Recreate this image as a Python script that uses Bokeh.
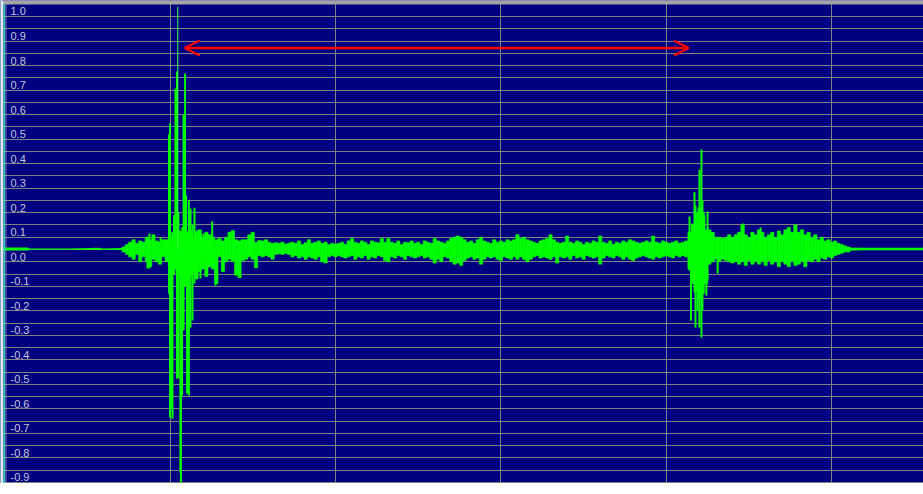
from bokeh.plotting import figure
from bokeh.models import Range1d, Grid, FixedTicker, Arrow, OpenHead, ColumnDataSource, BoxAnnotation
from bokeh.core.properties import value
from bokeh.embed import file_html
from bokeh.resources import INLINE
import numpy as np

# ---------------- data ----------------
# time axis: one grid division = 100 units
time_grid = [100, 200, 300, 400, 500]
level_ticks = [1.0, 0.9, 0.8, 0.7, 0.6, 0.5, 0.4, 0.3, 0.2, 0.1, 0.0,
               -0.1, -0.2, -0.3, -0.4, -0.5, -0.6, -0.7, -0.8, -0.9]
level_labels = ["1.0", "0.9", "0.8", "0.7", "0.6", "0.5", "0.4", "0.3", "0.2", "0.1", "0.0",
                "-0.1", "-0.2", "-0.3", "-0.4", "-0.5", "-0.6", "-0.7", "-0.8", "-0.9"]

# quiet lead-in and tail (thin trace around 0.05)
lead_t = [-3, 14, 15, 40, 52, 56, 60, 72]
lead_top = [0.058, 0.058, 0.054, 0.054, 0.056, 0.057, 0.054, 0.056]
lead_bot = [0.046, 0.046, 0.049, 0.049, 0.049, 0.049, 0.049, 0.048]
tail_t = [510, 520, 540, 556]
tail_top = [0.058, 0.057, 0.057, 0.057]
tail_bot = [0.045, 0.047, 0.047, 0.047]

# envelope of the trace, sampled every 2 time units from t=72
pre_top = [0.06, 0.07, 0.08, 0.09, 0.075, 0.085, 0.08, 0.10, 0.09, 0.11, 0.085, 0.08, 0.09]
pre_bot = [0.04, 0.03, 0.02, 0.01, 0.03, 0.0, 0.02, 0.0, -0.02, 0.01, 0.0, -0.01, 0.02]
burst1_top = [0.09, 0.1, 0.12, 0.1, 0.12, 0.14, 0.12, 0.13, 0.1, 0.12, 0.13, 0.10, 0.12, 0.11, 0.10]
burst1_bot = [0.0, -0.02, -0.05, -0.03, -0.06, -0.05, -0.08, -0.06, -0.05, -0.07, -0.04, -0.03, -0.06, -0.02, -0.03]
decay_top = [0.09, 0.095, 0.085, 0.10, 0.12, 0.127, 0.09, 0.085, 0.09, 0.09]
decay_bot = [-0.09, 0.02, -0.04, 0.0, 0.01, 0.0, -0.055, -0.065, 0.005, 0.01]
quiet1_top = [0.11, 0.12, 0.08, 0.087, 0.085, 0.09, 0.08, 0.075, 0.078, 0.075, 0.08, 0.072, 0.076, 0.08,
              0.075, 0.085, 0.07, 0.078, 0.09, 0.075, 0.08, 0.085, 0.075, 0.08, 0.07, 0.075, 0.072]
quiet1_bot = [0.02, 0.01, -0.025, 0.025, 0.02, 0.025, 0.02, 0.01, 0.03, 0.032, 0.03, 0.034, 0.03, 0.02,
              0.025, 0.015, 0.02, 0.01, 0.02, 0.015, 0.01, 0.02, 0.0, -0.005, 0.02, 0.025, 0.02]
quiet2_top = [0.075, 0.08, 0.07, 0.085, 0.095, 0.08, 0.075, 0.085, 0.08, 0.07, 0.085, 0.08, 0.078, 0.095,
              0.08, 0.095, 0.08, 0.075, 0.085, 0.07, 0.08, 0.078, 0.085, 0.075, 0.08, 0.07, 0.085, 0.08,
              0.075, 0.095, 0.085, 0.08, 0.075, 0.085, 0.095, 0.1, 0.105, 0.1, 0.09, 0.08, 0.085, 0.075,
              0.09, 0.1, 0.085, 0.08, 0.075, 0.09, 0.08, 0.085, 0.08, 0.09, 0.085, 0.09, 0.11, 0.095]
quiet2_bot = [0.025, 0.02, 0.015, 0.02, 0.025, 0.01, 0.02, 0.015, 0.025, 0.01, 0.02, 0.015, 0.025, 0.02,
              0.005, 0.0, 0.02, 0.015, 0.025, 0.02, 0.01, 0.025, 0.02, 0.015, 0.02, 0.025, 0.015, 0.02,
              0.01, -0.005, 0.01, 0.0, 0.02, 0.015, 0.0, -0.01, -0.005, -0.015, 0.005, 0.015, 0.02, 0.01,
              0.015, -0.01, 0.01, 0.02, 0.015, 0.02, 0.01, 0.005, 0.02, 0.015, 0.01, 0.02, 0.01, 0.02]
quiet3_top = [0.1, 0.09, 0.085, 0.08, 0.075, 0.085, 0.09, 0.095, 0.11, 0.09, 0.08, 0.075, 0.08, 0.105,
              0.08, 0.075, 0.085, 0.08, 0.07, 0.08, 0.075, 0.085, 0.08, 0.105, 0.08, 0.075, 0.085, 0.07,
              0.08, 0.075, 0.085, 0.08, 0.09, 0.085, 0.08, 0.075, 0.08, 0.085, 0.08, 0.105, 0.08, 0.075,
              0.085, 0.08, 0.075, 0.08, 0.085, 0.075, 0.08, 0.085]
quiet3_bot = [0.01, 0.0, 0.01, 0.02, 0.025, 0.015, 0.02, 0.015, 0.01, 0.02, -0.005, 0.02, 0.015, 0.02,
              0.01, 0.025, 0.015, 0.02, 0.01, 0.025, 0.02, 0.015, 0.02, -0.01, 0.015, 0.025, 0.02, 0.015,
              0.025, 0.02, 0.01, 0.02, 0.01, 0.005, 0.015, 0.02, 0.025, 0.02, 0.015, 0.01, 0.02, 0.015,
              0.02, 0.025, 0.02, 0.015, 0.025, 0.02, 0.025, 0.02]
burst2_top = [0.12, 0.15, 0.2, 0.22, 0.2, 0.13, 0.13, 0.12, 0.1, 0.1, 0.095, 0.1, 0.11, 0.1]
burst2_bot = [-0.03, -0.09, -0.12, -0.15, -0.13, -0.09, -0.01, 0.0, 0.01, 0.0, 0.01, 0.005, 0.0, -0.005]
late_top = [0.11, 0.12, 0.15, 0.11, 0.1, 0.12, 0.11, 0.13, 0.12, 0.1, 0.11, 0.12, 0.1, 0.125, 0.11, 0.13,
            0.14, 0.12, 0.15, 0.12, 0.13, 0.11, 0.12, 0.1, 0.11, 0.09, 0.1, 0.085, 0.09, 0.08, 0.085,
            0.075, 0.07, 0.065, 0.06]
late_bot = [0.0, -0.01, 0.0, -0.015, 0.005, -0.01, 0.0, -0.01, 0.0, -0.015, 0.005, -0.01, 0.0, -0.02, 0.0,
            -0.01, -0.02, 0.0, -0.015, -0.01, 0.0, -0.02, 0.005, 0.0, 0.01, 0.0, 0.015, 0.01, 0.02, 0.015,
            0.025, 0.03, 0.035, 0.04, 0.04]

# individual sharp excursions (time, max, min)
spike_t = [86.4, 87.6, 94.3, 99.4, 100.0, 100.9, 101.5, 102.4, 103.3, 104.2, 105.1, 106.3, 106.6,
           107.3, 108.2, 109.1, 109.7, 110.3, 111.4, 112.4, 113.6, 114.8, 116.0, 117.2, 118.4, 120.2,
           121.4, 123.3, 125.5, 127.5,
           414.0, 414.9, 415.8, 417.0, 417.6, 418.8, 420.0, 421.2, 421.8, 423.0, 424.2, 424.9, 431.0,
           446.6, 457.0]
spike_max = [0.094, 0.115, 0.1, 0.52, 0.564, 0.05, 0.05, 0.19, 0.706, 0.776, 0.2, 0.127, 0.05,
             0.1, 0.6, 0.768, 0.27, 0.06, 0.25, 0.217, 0.15, 0.22, 0.127, 0.13, 0.115, 0.115,
             0.1, 0.08, 0.164, 0.06,
             0.185, 0.05, 0.156, 0.283, 0.23, 0.15, 0.375, 0.458, 0.25, 0.19, 0.127, 0.205, 0.09,
             0.156, 0.14]
spike_min = [-0.027, -0.027, 0.0, -0.13, -0.635, -0.6, -0.64, -0.05, 0.0, -0.476, -0.476, -0.86, -0.9,
             -0.545, -0.28, -0.1, 0.0, -0.537, -0.545, -0.268, -0.24, -0.089, -0.036, 0.0, -0.068, 0.0,
             0.02, -0.023, 0.0, -0.097,
             -0.036, -0.24, -0.085, -0.125, -0.268, -0.2, -0.268, -0.309, -0.2, -0.09, -0.138, -0.077, -0.048,
             0.0, 0.0]

# cursor line at the first event
cursor_t = 104.7
cursor_top = 1.04
cursor_bot = 0.05

# measurement arrow between the two events
marker_start = 108.9
marker_end = 413.6
marker_level = 0.8716

band_top = pre_top + burst1_top + decay_top + quiet1_top + quiet2_top + quiet3_top + burst2_top + late_top
band_bot = pre_bot + burst1_bot + decay_bot + quiet1_bot + quiet2_bot + quiet3_bot + burst2_bot + late_bot
band_t = list(range(72, 72 + 2 * len(band_top), 2))

# ---------------- figure ----------------
NAVY = "#000080"
GRID = "#808080"
TRACE = "#00ff00"
X0, X1 = -2.448, 555.42
Y0, Y1 = -0.9041, 1.0652
TOP_EDGE = 1.0489     # bottom of the grey title strip

p = figure(width=923, height=483, output_backend="svg", toolbar_location=None,
           x_range=Range1d(X0, X1), y_range=Range1d(Y0, Y1),
           x_axis_type=None, y_axis_type=None, min_border=0,
           background_fill_color=NAVY, border_fill_color="white", outline_line_color=None)

grid_levels = [round(v, 2) for v in np.arange(-0.9, 1.0001, 0.05)]
p.add_layout(Grid(dimension=1, ticker=FixedTicker(ticks=grid_levels),
                  grid_line_color=GRID, grid_line_width=1))
p.add_layout(Grid(dimension=0, ticker=FixedTicker(ticks=time_grid),
                  grid_line_color=GRID, grid_line_width=1))

# window chrome: grey strip on top, white/cyan edge and dotted ruler on the left
p.add_layout(BoxAnnotation(left=X0, right=X1, bottom=TOP_EDGE, top=Y1,
                           fill_color="#a4a4a4", fill_alpha=1, line_color=None))
p.add_layout(BoxAnnotation(left=X0, right=-0.64, bottom=Y0, top=Y1,
                           fill_color="#d8e8e8", fill_alpha=1, line_color=None))
p.add_layout(BoxAnnotation(left=-0.64, right=0.4, bottom=Y0, top=TOP_EDGE,
                           fill_color="#40c0c0", fill_alpha=1, line_color=None))
p.segment(x0=[0.9], y0=[Y0], x1=[0.9], y1=[TOP_EDGE], line_color="#e0e0e0",
          line_width=1, line_dash="1 1")

p.text(x=[X0] * len(level_ticks), y=level_ticks, text=level_labels,
       x_offset=10, y_offset=-5, text_baseline="middle", text_align="left",
       text_font=value("Liberation Sans"), text_font_size="11px", text_color="#c8c8d8")

p.varea(x=lead_t, y1=lead_bot, y2=lead_top, fill_color=TRACE)
p.varea(x=tail_t, y1=tail_bot, y2=tail_top, fill_color=TRACE)

band = ColumnDataSource(dict(t=band_t, top=band_top, bot=band_bot))
p.vbar(x="t", width=2.0, top="top", bottom="bot", source=band, fill_color=TRACE,
       line_color=TRACE, line_width=0.6)

spikes = ColumnDataSource(dict(t=spike_t, top=spike_max, bot=spike_min))
p.vbar(x="t", width=1.2, top="top", bottom="bot", source=spikes, fill_color=TRACE, line_color=None)

p.segment(x0=[cursor_t], y0=[cursor_bot], x1=[cursor_t], y1=[cursor_top],
          line_color="#40ff40", line_width=1)

p.add_layout(Arrow(x_start=marker_start, y_start=marker_level, x_end=marker_end, y_end=marker_level,
                   line_color="#ff0000", line_width=2.5,
                   start=OpenHead(size=15, line_color="#ff0000", line_width=2),
                   end=OpenHead(size=15, line_color="#ff0000", line_width=2)))

open("out.html", "w").write(file_html(p, INLINE))
